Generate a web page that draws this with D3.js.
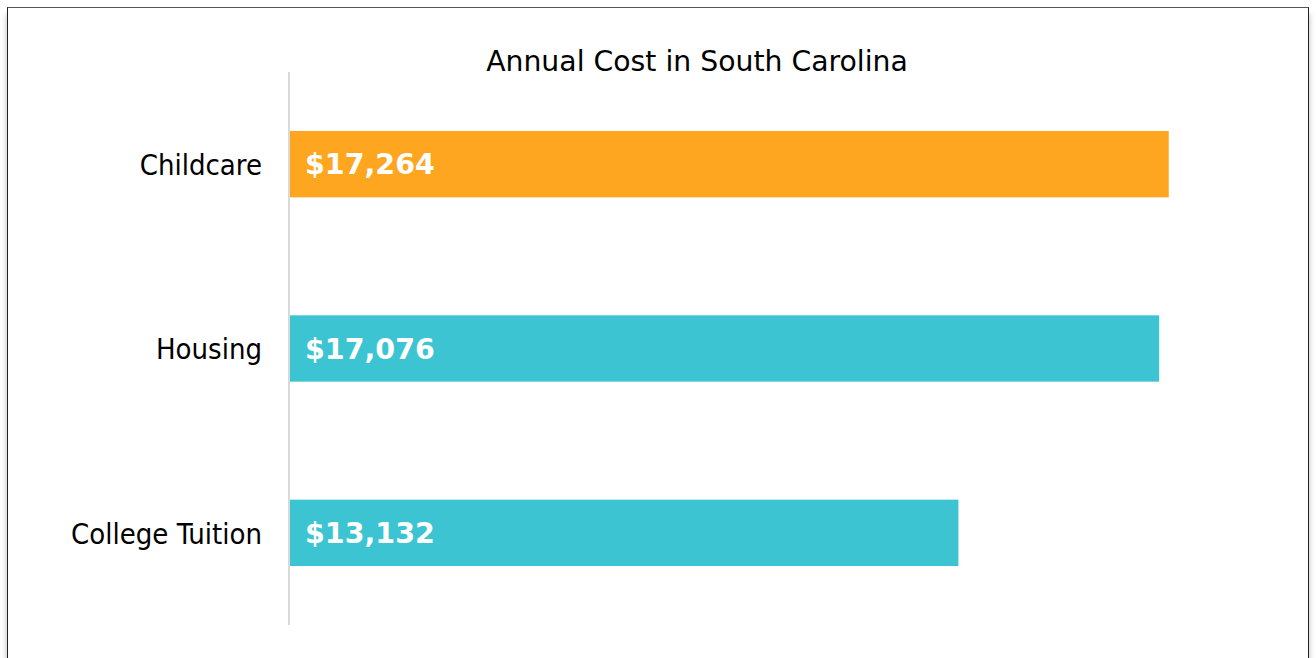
<!DOCTYPE html>
<html>
<head>
<meta charset="utf-8">
<script src="https://cdn.jsdelivr.net/npm/d3@7"></script>
<style>
  html, body { margin: 0; padding: 0; background: #fff; }
  body { width: 1316px; height: 658px; overflow: hidden; position: relative; }
  #frame {
    position: absolute; left: 7px; top: 7px; width: 1300px; height: 720px;
    border: 1.5px solid #222; border-top-color: #555;
    box-shadow: 0 7px 6px rgba(0,0,0,0.28);
    background: #fff;
  }
  svg { position: absolute; left: 0; top: 0; }
</style>
</head>
<body>
<div id="frame"></div>
<svg id="chart" width="1316" height="658"></svg>
<script>
// Annual costs, in dollars
const categories = ["Childcare", "Housing", "College Tuition"];
const costs = [17264, 17076, 13132];
const barColors = ["#FFA620", "#3CC4D2", "#3CC4D2"];
const title = "Annual Cost in South Carolina";

const fontWide = "'DejaVu Sans', sans-serif";
const fontNarrow = "'DejaVu Sans Condensed', 'DejaVu Sans', sans-serif";
const svg = d3.select("#chart");

const x = d3.scaleLinear().domain([0, 20000]).range([290, 1308]);
const y = d3.scaleBand().domain(categories).range([72, 625])
  .paddingInner(0.64).paddingOuter(0.32);

// Title
svg.append("text")
  .attr("x", 697).attr("y", 71)
  .attr("text-anchor", "middle")
  .attr("font-family", fontWide).attr("font-size", 28.3)
  .attr("fill", "#000")
  .text(title);

// Bars
svg.selectAll("rect.bar").data(categories).join("rect")
  .attr("class", "bar")
  .attr("x", x(0))
  .attr("y", d => y(d))
  .attr("width", (d, i) => x(costs[i]) - x(0))
  .attr("height", y.bandwidth())
  .attr("fill", (d, i) => barColors[i]);

// Category axis
const yAxis = svg.append("g")
  .attr("transform", `translate(${x(0) - 1},0)`)
  .call(d3.axisLeft(y).tickSize(0).tickPadding(27));
yAxis.select(".domain").attr("stroke", "#d9d9d9").attr("stroke-width", 2)
  .attr("d", "M0,72V625");
yAxis.selectAll("text")
  .attr("font-family", fontNarrow).attr("font-size", 29)
  .attr("dy", "0.37em")
  .attr("fill", "#000");

// Value labels inside bars
const fmt = d3.format("$,");
svg.selectAll("text.value").data(categories).join("text")
  .attr("class", "value")
  .attr("x", x(0) + 15)
  .attr("y", d => y(d) + y.bandwidth() / 2)
  .attr("dy", "0.36em")
  .attr("font-family", fontWide).attr("font-weight", "bold").attr("font-size", 28.5)
  .attr("fill", "#fff")
  .text((d, i) => fmt(costs[i]));
</script>
</body>
</html>
